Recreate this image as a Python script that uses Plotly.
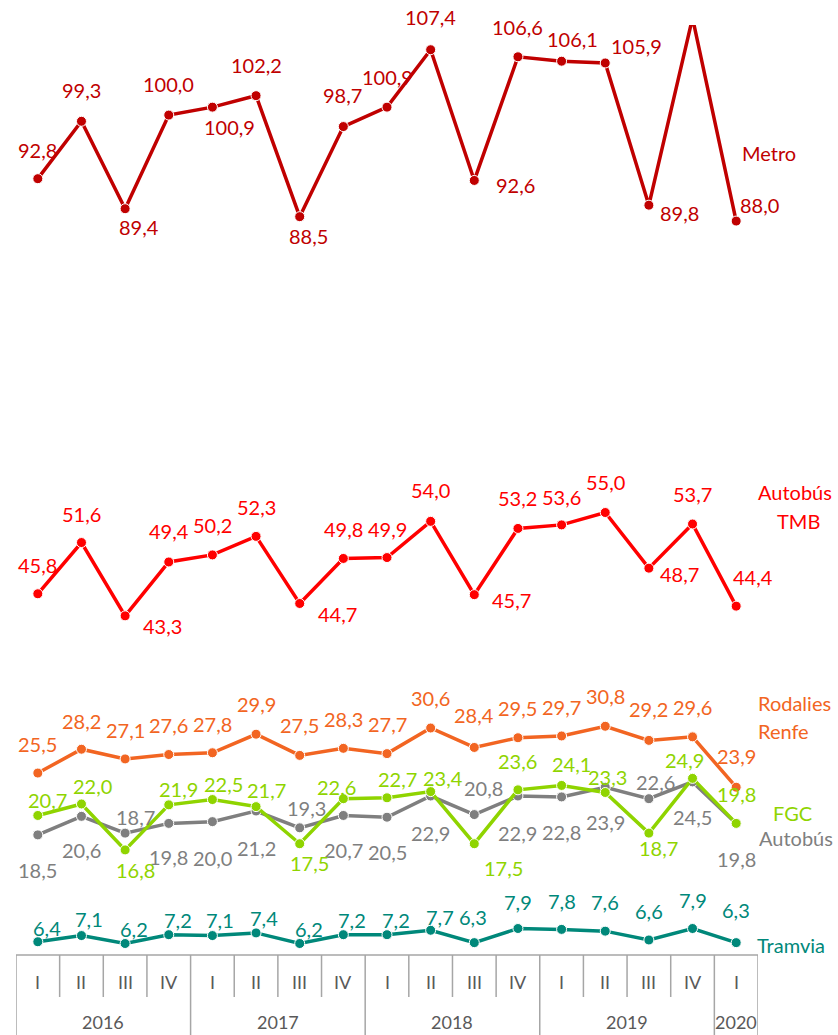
import plotly.graph_objects as go

# ---------------- data ----------------
years = ["2016", "2017", "2018", "2019", "2020"]
quarters_per_year = [4, 4, 4, 4, 1]
quarter_labels = ["I", "II", "III", "IV", "I", "II", "III", "IV", "I", "II", "III", "IV",
                  "I", "II", "III", "IV", "I"]

metro = [92.8, 99.3, 89.4, 100.0, 100.9, 102.2, 88.5, 98.7, 100.9, 107.4, 92.6, 106.6,
         106.1, 105.9, 89.8, 111.0, 88.0]
autobus_tmb = [45.8, 51.6, 43.3, 49.4, 50.2, 52.3, 44.7, 49.8, 49.9, 54.0, 45.7, 53.2,
               53.6, 55.0, 48.7, 53.7, 44.4]
rodalies = [25.5, 28.2, 27.1, 27.6, 27.8, 29.9, 27.5, 28.3, 27.7, 30.6, 28.4, 29.5,
            29.7, 30.8, 29.2, 29.6, 23.9]
fgc = [20.7, 22.0, 16.8, 21.9, 22.5, 21.7, 17.5, 22.6, 22.7, 23.4, 17.5, 23.6,
       24.1, 23.3, 18.7, 24.9, 19.8]
autobus = [18.5, 20.6, 18.7, 19.8, 20.0, 21.2, 19.3, 20.7, 20.5, 22.9, 20.8, 22.9,
           22.8, 23.9, 22.6, 24.5, 19.8]
tramvia = [6.4, 7.1, 6.2, 7.2, 7.1, 7.4, 6.2, 7.2, 7.2, 7.7, 6.3, 7.9,
           7.8, 7.6, 6.6, 7.9, 6.3]

# ---------------- styling ----------------
FONT = "Lato"
W, H = 838, 1035
ML, MR, MT, MB = 16, 80, 25, 80
PW, PH = W - ML - MR, H - MT - MB
Y_MIN, Y_MAX = 4.9, 110.2

C_METRO = "#C00000"
C_TMB = "#FF0000"
C_ROD = "#F26522"
C_FGC = "#8FD400"
C_BUS = "#7F7F7F"
C_TRAM = "#00887A"
C_AXIS = "#A6A6A6"
C_AXTXT = "#595959"

# label offsets in pixels (dx right, dy down) relative to each point
off_metro = [(0, -29), (0, -31), (14, 18), (0, -31), (17, 20), (0, -31), (9, 19), (-1, -32),
             (0, -30), (0, -33), (41, 5), (0, -30), (11, -22), (31, -17), (31, 8), (0, -30), (23, -16)]
off_tmb = [(0, -29), (0, -29), (37, 10), (0, -31), (0, -29.5), (0, -29.5), (38, 11), (0, -29.5),
           (0, -29), (0, -31.5), (37, 5), (0, -30), (0, -28), (0, -30.5), (31, 6), (0, -30), (17, -29)]
off_rod = [(0, -29.5), (0, -28), (0, -29), (0, -30), (0, -29), (0, -30), (0, -30), (0, -29.5),
           (0, -30), (0, -30), (0, -32), (0, -30), (0, -29), (0, -30), (0, -31), (0, -29.5), (0, -31)]
off_fgc = [(10, -15), (11, -17.5), (10, 20.5), (9.5, -15.5), (11, -16), (10, -16.5), (9.5, 19), (-6.5, -12),
           (10, -18.5), (12, -14), (29, 24), (0, -29), (9.5, -21), (2, -15), (10, 15), (-8, -18), (0, -29)]
off_bus = [(0, 35.5), (0, 34), (10, -15.7), (0, 34), (0, 36), (0, 36.5), (6.5, -20), (0, 35),
           (0, 35), (0, 36.5), (9, -26.5), (0, 36.5), (0, 35.5), (0, 35), (7, -17), (0, 35.5), (0, 36)]
off_tram = [(9, -14), (8, -17), (9, -15), (9, -15), (8, -15.5), (7.5, -14.5), (9, -15), (9, -15),
            (9, -15), (9, -13.5), (-1, -26), (0, -27), (0, -28), (0, -29.5), (0, -29), (0, -28.5), (0, -32.5)]

series = [
    ("Metro", metro, C_METRO, off_metro),
    ("Autobús TMB", autobus_tmb, C_TMB, off_tmb),
    ("Rodalies Renfe", rodalies, C_ROD, off_rod),
    ("FGC", fgc, C_FGC, off_fgc),
    ("Autobús", autobus, C_BUS, off_bus),
    ("Tramvia", tramvia, C_TRAM, off_tram),
]

xs = list(range(len(quarter_labels)))


def fmt(v):
    return f"{v:.1f}".replace(".", ",")


def pxx(X):
    return (X - ML) / PW


def pxy(Y):
    return (H - MB - Y) / PH


fig = go.Figure()
annotations = []

for name, vals, col, offs in reversed(series):
    fig.add_trace(go.Scatter(
        x=xs, y=vals, mode="lines+markers", name=name,
        line=dict(color=col, width=3.5),
        marker=dict(color=col, size=10, line=dict(color="white", width=1)),
        cliponaxis=True, showlegend=False, hoverinfo="skip",
    ))
    for i, v in enumerate(vals):
        if v > Y_MAX or v < Y_MIN:
            continue
        dx, dy = offs[i]
        annotations.append(dict(
            x=i, y=v, xref="x", yref="y", text=fmt(v), showarrow=False,
            xshift=dx, yshift=-dy, xanchor="center", yanchor="middle",
            font=dict(family=FONT, size=20, color=col),
        ))

name_labels = [
    ("Metro", 740, 152.5, C_METRO, "left"),
    ("Autobús", 795, 491.5, C_TMB, "center"),
    ("TMB", 799, 521, C_TMB, "center"),
    ("Rodalies", 756, 702.5, C_ROD, "left"),
    ("Renfe", 756, 730.5, C_ROD, "left"),
    ("FGC", 771, 812.5, C_FGC, "left"),
    ("Autobús", 757, 837.5, C_BUS, "left"),
    ("Tramvia", 755, 945, C_TRAM, "left"),
]
for txt, X, Y, col, anc in name_labels:
    annotations.append(dict(
        x=pxx(X), y=pxy(Y), xref="paper", yref="paper", text=txt, showarrow=False,
        xanchor=anc, yanchor="middle", font=dict(family=FONT, size=20, color=col),
    ))

shapes = []
y_top = 0
y_qbot = pxy(997)
y_bot = pxy(1035)
shapes.append(dict(type="line", xref="x", yref="paper", x0=-0.5, x1=len(xs) - 0.5,
                   y0=y_top, y1=y_top, line=dict(color=C_AXIS, width=1.5)))
year_edges = [-0.5]
acc = -0.5
for n in quarters_per_year:
    acc += n
    year_edges.append(acc)
for e in year_edges:
    shapes.append(dict(type="line", xref="x", yref="paper", x0=e, x1=e,
                       y0=y_top, y1=y_bot, line=dict(color=C_AXIS, width=1.5)))
for k in range(len(xs) - 1):
    e = k + 0.5
    if e in year_edges:
        continue
    shapes.append(dict(type="line", xref="x", yref="paper", x0=e, x1=e,
                       y0=y_top, y1=y_qbot, line=dict(color=C_AXIS, width=1.5)))

for i, q in enumerate(quarter_labels):
    annotations.append(dict(x=i, y=pxy(982), xref="x", yref="paper", text=q, showarrow=False,
                            xanchor="center", yanchor="middle",
                            font=dict(family=FONT, size=18, color=C_AXTXT)))
for j, yr in enumerate(years):
    cx = (year_edges[j] + year_edges[j + 1]) / 2
    annotations.append(dict(x=cx, y=pxy(1022), xref="x", yref="paper", text=yr, showarrow=False,
                            xanchor="center", yanchor="middle",
                            font=dict(family=FONT, size=18, color=C_AXTXT)))

fig.update_layout(
    width=W, height=H,
    margin=dict(l=ML, r=MR, t=MT, b=MB, pad=0),
    paper_bgcolor="white", plot_bgcolor="white",
    xaxis=dict(range=[-0.5, len(xs) - 0.5], showgrid=False, zeroline=False,
               showticklabels=False, ticks="", showline=False, fixedrange=True),
    yaxis=dict(range=[Y_MIN, Y_MAX], showgrid=False, zeroline=False,
               showticklabels=False, ticks="", showline=False, fixedrange=True),
    annotations=annotations, shapes=shapes, showlegend=False,
)

fig.write_html(
    "out.html",
    config={"displayModeBar": False},
    post_script="document.body.style.margin='0';document.body.style.overflow='hidden';",
)
